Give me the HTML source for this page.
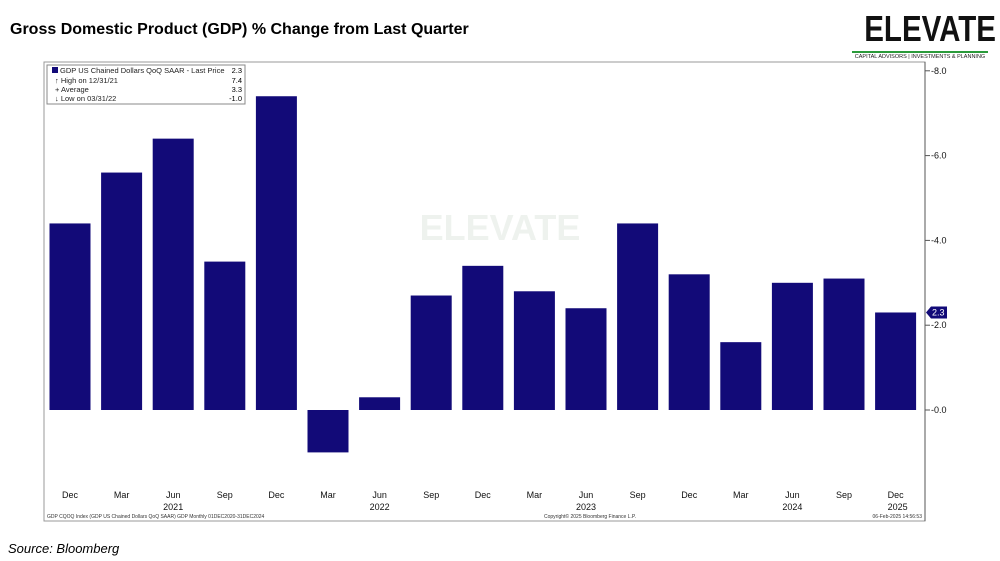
<!DOCTYPE html>
<html><head><meta charset="utf-8"><style>
body{margin:0;width:1000px;height:561px;background:#fff;font-family:"Liberation Sans",sans-serif;position:relative;overflow:hidden}
.t{position:absolute;white-space:nowrap}
</style></head><body>
<div class="t" style="left:10px;top:21px;font-size:16px;font-weight:bold;color:#000">Gross Domestic Product (GDP) % Change from Last Quarter</div>
<div class="t" style="left:852px;top:8px;width:136px;text-align:center">
<div style="font-size:36px;font-weight:bold;color:#111;line-height:42px;transform:scaleX(0.82);transform-origin:center">ELEVATE</div>
<div style="height:2px;background:#2a9a3a;margin:1px 0"></div>
<div style="font-size:5.5px;color:#222">CAPITAL ADVISORS | INVESTMENTS &amp; PLANNING</div></div>
<div class="t" style="left:8px;top:541px;font-size:13px;font-style:italic">Source: Bloomberg</div>
<svg width="1000" height="561" style="position:absolute;left:0;top:0" id="chart">
<rect x="44" y="62" width="881" height="459" fill="none" stroke="#999" stroke-width="1"/>
<text x="500" y="240" font-size="36" font-weight="bold" fill="#eef2ee" text-anchor="middle">ELEVATE</text>
<line x1="925" y1="62" x2="925" y2="521" stroke="#555"/>
<g id="bars"></g><g id="yax"></g><g id="xax"></g>
<g>
<rect x="47" y="65" width="198" height="39" fill="#fff" stroke="#888"/>
<rect x="52" y="67" width="6" height="6" fill="#120a78"/>
<text x="60" y="73" font-size="7.5" fill="#222">GDP US Chained Dollars QoQ SAAR - Last Price</text><text x="242" y="73" font-size="7.5" text-anchor="end">2.3</text>
<text x="55" y="83" font-size="7.5" fill="#222">↑ High on 12/31/21</text><text x="242" y="83" font-size="7.5" text-anchor="end">7.4</text>
<text x="55" y="92" font-size="7.5" fill="#222">+ Average</text><text x="242" y="92" font-size="7.5" text-anchor="end">3.3</text>
<text x="55" y="101" font-size="7.5" fill="#222">↓ Low on 03/31/22</text><text x="242" y="101" font-size="7.5" text-anchor="end">-1.0</text>
</g>
<text x="47" y="518" font-size="5" fill="#333">GDP CQOQ Index (GDP US Chained Dollars QoQ SAAR) GDP  Monthly 01DEC2020-31DEC2024</text>
<text x="590" y="518" font-size="5" fill="#333" text-anchor="middle">Copyright© 2025 Bloomberg Finance L.P.</text>
<text x="922" y="518" font-size="5" fill="#333" text-anchor="end">06-Feb-2025 14:56:53</text>
</svg>
<script>
const months=["Dec","Mar","Jun","Sep","Dec","Mar","Jun","Sep","Dec","Mar","Jun","Sep","Dec","Mar","Jun","Sep","Dec"];
const values=[4.4,5.6,6.4,3.5,7.4,-1.0,0.3,2.7,3.4,2.8,2.4,4.4,3.2,1.6,3.0,3.1,2.3];
const yTicks=[0,2,4,6,8];
const years=[{i:2,l:"2021"},{i:6,l:"2022"},{i:10,l:"2023"},{i:14,l:"2024"},{i:16,l:"2025"}];
const NS="http://www.w3.org/2000/svg";
const y=v=>410-v*42.4;
const x=i=>70+i*51.6;
function mk(t,a,p){const e=document.createElementNS(NS,t);for(const k in a)e.setAttribute(k,a[k]);p.appendChild(e);return e;}
const B=document.getElementById('bars'),Y=document.getElementById('yax'),X=document.getElementById('xax');
values.forEach((v,i)=>{const r=mk('rect',{x:x(i)-20.5,y:Math.min(y(v),y(0)),width:41,height:Math.abs(y(v)-y(0)),fill:'#120a78'},B);

});
months.forEach((m,i)=>{const t=mk('text',{x:x(i),y:498,'font-size':9,'text-anchor':'middle',fill:'#111'},X);t.textContent=m;

});
years.forEach(o=>{const t=mk('text',{x:x(o.i)+(o.i==16?12:0),y:510,'font-size':9,'text-anchor':o.i==16?'end':'middle',fill:'#111'},X);t.textContent=o.l;

});
yTicks.forEach(v=>{mk('line',{x1:925,x2:930,y1:y(v),y2:y(v),stroke:'#555'},Y);
const t=mk('text',{x:931,y:y(v)+3,'font-size':9,fill:'#111'},Y);t.textContent='-'+v.toFixed(1);

});
const last=values[values.length-1],ly=y(last);
const p=mk('path',{d:`M926 ${ly} L931 ${ly-6} L947 ${ly-6} L947 ${ly+6} L931 ${ly+6} Z`,fill:'#120a78'},Y);


const lt=mk('text',{x:932,y:ly+3,'font-size':9,fill:'#fff'},Y);lt.textContent=last.toFixed(1);


</script>
</body></html>
